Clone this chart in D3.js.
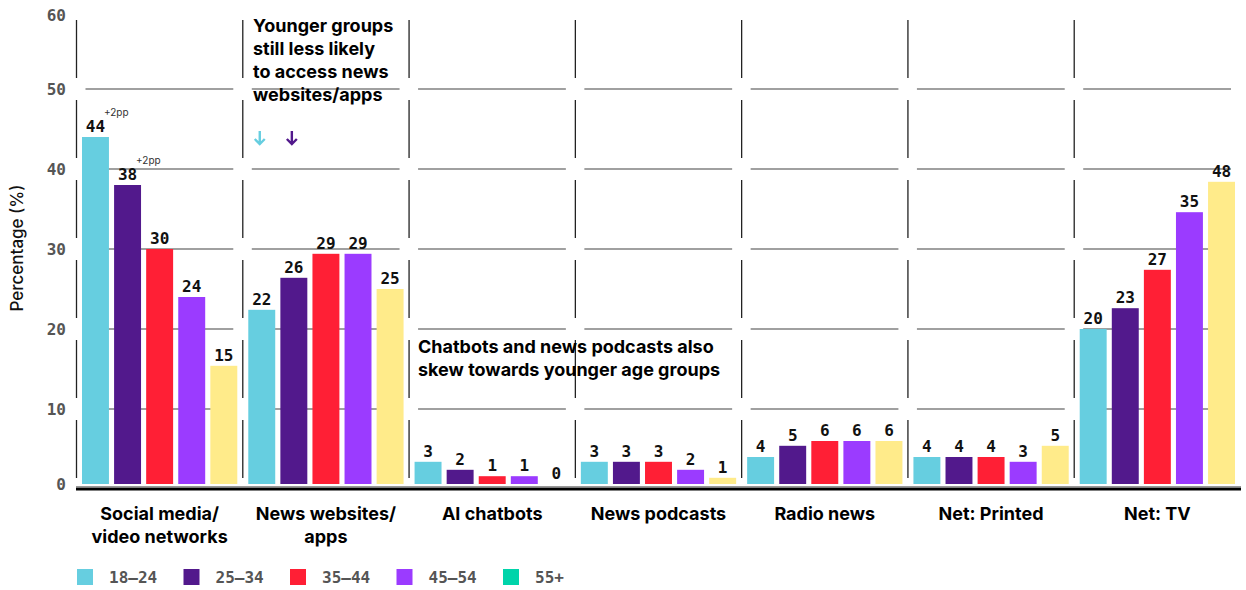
<!DOCTYPE html>
<html>
<head>
<meta charset="utf-8">
<script src="https://cdn.jsdelivr.net/npm/d3@7"></script>
<style>
  body { margin: 0; background: #fff; }
  svg { display: block; }
  .mono { font-family: 'DejaVu Sans Mono', monospace; }
  .sans { font-family: Inter, 'Liberation Sans', sans-serif; }
</style>
</head>
<body>
<div id="chart"></div>
<script>
var width = 1246;
var height = 590;

// categories (lines split with \n)
var categories = ['Social media/\nvideo networks', 'News websites/\napps', 'AI chatbots',
  'News podcasts', 'Radio news', 'Net: Printed', 'Net: TV'];
var groups = ['18–24', '25–34', '35–44', '45–54', '55+'];

// bar heights
var age18_24  = [44, 22.4, 3.4, 3.4, 4, 4, 20];
var age25_34  = [38, 26.4, 2.4, 3.4, 5.4, 4, 22.6];
var age35_44  = [30, 29.4, 1.6, 3.4, 6, 4, 27.4];
var age45_54  = [24, 29.4, 1.6, 2.4, 6, 3.4, 34.6];
var age55plus = [15.4, 25, 0, 1.4, 6, 5.4, 38.4];

// printed value labels
var label18_24  = [44, 22, 3, 3, 4, 4, 20];
var label25_34  = [38, 26, 2, 3, 5, 4, 23];
var label35_44  = [30, 29, 1, 3, 6, 4, 27];
var label45_54  = [24, 29, 1, 2, 6, 3, 35];
var label55plus = [15, 25, 0, 1, 6, 5, 48];

var yTicks = [0, 10, 20, 30, 40, 50, 60];

// small change notes: [category index, group index, text]
var changes = [[0, 0, '+2pp'], [0, 1, '+2pp']];

var barColors = ['#66cee0', '#52198c', '#ff1f35', '#9b3bff', '#ffeb8a'];
var legendColors = ['#66cee0', '#52198c', '#ff1f35', '#9b3bff', '#00d4aa'];

var series = [age18_24, age25_34, age35_44, age45_54, age55plus];
var labels = [label18_24, label25_34, label35_44, label45_54, label55plus];

var svg = d3.select('#chart')
    .append('svg')
    .attr('width', width)
    .attr('height', height);

var x = d3.scaleBand()
    .domain(categories)
    .range([76.5, 1240.5]);

var xSub = d3.scaleBand()
    .domain(groups)
    .range([5.5, x.bandwidth() - 5.5])
    .paddingInner(0.16);

var y = d3.scaleLinear()
    .domain([0, 60])
    .range([489, 9]);

var baseY = y(0) - 5;

// gridlines per category
var gridG = svg.append('g');
categories.forEach(function(c) {
  yTicks.filter(function(t) { return t > 0 && t < 60; }).forEach(function(t) {
    gridG.append('line')
      .attr('x1', x(c) + 9)
      .attr('x2', x(c) + x.bandwidth() - 9.5)
      .attr('y1', y(t))
      .attr('y2', y(t))
      .attr('stroke', '#808080')
      .attr('stroke-width', 1.5);
  });
  // separator broken around gridlines
  for (var k = 0; k < yTicks.length - 1; k++) {
    gridG.append('line')
      .attr('x1', x(c))
      .attr('x2', x(c))
      .attr('y1', y(yTicks[k + 1]) + 11)
      .attr('y2', y(yTicks[k]) - 11)
      .attr('stroke', '#222')
      .attr('stroke-width', 1.3);
  }
});

// y axis labels
var yAxis = svg.append('g')
    .attr('transform', 'translate(66,0)')
    .call(d3.axisLeft(y).tickValues(yTicks).tickSize(0).tickPadding(0));
yAxis.select('.domain').remove();
yAxis.selectAll('text')
    .attr('class', 'mono')
    .style('font-size', '16px')
    .style('font-weight', 'bold')
    .attr('fill', '#555')
    .attr('dy', '0.35em');
yAxis.selectAll('.tick')
    .attr('transform', function(d) {
      return 'translate(0,' + Math.max(15, Math.min(484, y(d))) + ')';
    });

svg.append('text')
    .attr('class', 'sans')
    .attr('transform', 'translate(23,248) rotate(-90)')
    .attr('text-anchor', 'middle')
    .style('font-size', '17px')
    .style('font-weight', 500)
    .attr('fill', '#111')
    .text('Percentage (%)');

// bars
var groupG = svg.selectAll('.grp')
    .data(series)
    .enter()
    .append('g')
    .attr('class', 'grp');

groupG.each(function(vals, gi) {
  var g = d3.select(this);
  vals.forEach(function(v, ci) {
    var c = categories[ci];
    var bx = x(c) + xSub(groups[gi]);
    var top = Math.min(y(v), baseY);
    if (v > 0) {
      g.append('rect')
        .attr('x', bx)
        .attr('y', top)
        .attr('width', xSub.bandwidth())
        .attr('height', baseY - top)
        .attr('fill', barColors[gi]);
    }
    g.append('text')
      .attr('class', 'mono')
      .attr('x', bx + xSub.bandwidth() / 2)
      .attr('y', top - 5)
      .attr('text-anchor', 'middle')
      .style('font-size', '16px')
      .style('font-weight', 'bold')
      .attr('fill', '#111')
      .text(labels[gi][ci]);
  });
});

// change notes
changes.forEach(function(ch) {
  var c = categories[ch[0]];
  var v = series[ch[1]][ch[0]];
  svg.append('text')
    .attr('class', 'sans')
    .attr('x', x(c) + xSub(groups[ch[1]]) + xSub.bandwidth() - 5)
    .attr('y', Math.min(y(v), baseY) - 21)
    .style('font-size', '10px')
    .attr('fill', '#333')
    .text(ch[2]);
});

// baseline
svg.append('line')
    .attr('x1', 76).attr('x2', 1241)
    .attr('y1', 486.5).attr('y2', 486.5)
    .attr('stroke', '#999').attr('stroke-width', 1);
svg.append('line')
    .attr('x1', 76).attr('x2', 1241)
    .attr('y1', 489).attr('y2', 489)
    .attr('stroke', '#000').attr('stroke-width', 3);

// category labels
categories.forEach(function(c) {
  var t = svg.append('text')
    .attr('class', 'sans')
    .attr('text-anchor', 'middle')
    .style('font-size', '18px')
    .style('font-weight', 'bold')
    .attr('fill', '#000');
  c.split('\n').forEach(function(line, i) {
    t.append('tspan')
      .attr('x', x(c) + x.bandwidth() / 2)
      .attr('y', 520 + i * 23)
      .text(line);
  });
});

// annotations
function note(lines, x0, y0) {
  var t = svg.append('text')
    .attr('class', 'sans')
    .style('font-size', '18px')
    .style('font-weight', 'bold')
    .attr('fill', '#000');
  lines.forEach(function(line, i) {
    t.append('tspan').attr('x', x0).attr('y', y0 + i * 23).text(line);
  });
}
note(['Younger groups', 'still less likely', 'to access news', 'websites/apps'], 253, 32);
note(['Chatbots and news podcasts also', 'skew towards younger age groups'], 418, 353);

// down arrows over the two youngest bars
[0, 1].forEach(function(gi) {
  var cx = x(categories[1]) + xSub(groups[gi]) + xSub.bandwidth() / 2 - 2;
  var p = d3.path();
  p.moveTo(cx, 131);
  p.lineTo(cx, 144);
  p.moveTo(cx - 5, 139);
  p.lineTo(cx, 144);
  p.lineTo(cx + 5, 139);
  svg.append('path')
    .attr('d', p.toString())
    .attr('fill', 'none')
    .attr('stroke', barColors[gi])
    .attr('stroke-width', 2.4);
});

// legend
var legend = svg.selectAll('.legend')
    .data(groups)
    .enter()
    .append('g')
    .attr('class', 'legend')
    .attr('transform', function(d, i) {
      return 'translate(' + (77 + i * 106.5) + ',569)';
    });

legend.append('rect')
    .attr('width', 16)
    .attr('height', 16)
    .attr('fill', function(d, i) { return legendColors[i]; });

legend.append('text')
    .attr('class', 'mono')
    .attr('x', 32)
    .attr('y', 14)
    .style('font-size', '16px')
    .style('font-weight', 'bold')
    .attr('fill', '#555')
    .text(function(d) { return d; });
</script>
</body>
</html>
